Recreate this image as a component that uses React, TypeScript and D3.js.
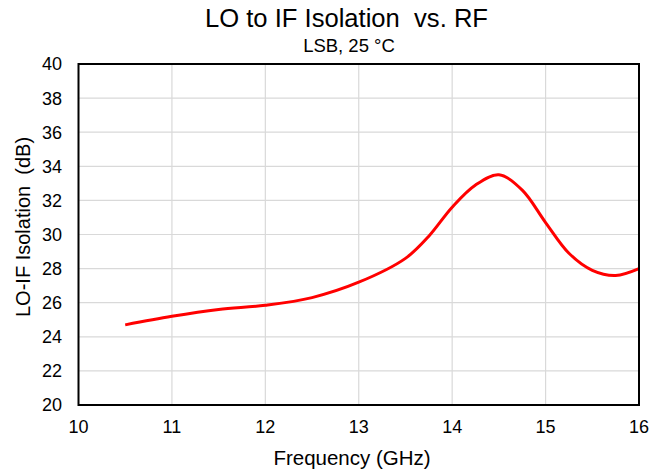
import React from "react";
import * as d3 from "d3";

const freqGHz = [10.5, 11, 11.5, 12, 12.5, 13, 13.5, 13.75, 14, 14.25, 14.5, 14.75, 15, 15.25, 15.5, 15.75, 16];
const isolationDb = [24.7, 25.2, 25.6, 25.85, 26.3, 27.2, 28.6, 29.9, 31.6, 32.9, 33.5, 32.6, 30.7, 28.9, 27.9, 27.6, 28.0];
const xTicks = [10, 11, 12, 13, 14, 15, 16];
const yTicks = [20, 22, 24, 26, 28, 30, 32, 34, 36, 38, 40];

const W = 651, H = 474;
const M = { left: 78.5, right: 639, top: 64, bottom: 405 };
const FONT = "'Liberation Sans', Arial, sans-serif";

export default function App() {
  const x = d3.scaleLinear().domain([10, 16]).range([M.left, M.right]);
  const y = d3.scaleLinear().domain([20, 40]).range([M.bottom, M.top]);
  const pts: [number, number][] = freqGHz.map((f, i) => [f, isolationDb[i]]);
  const line = d3.line<[number, number]>().x(d => x(d[0])).y(d => y(d[1])).curve(d3.curveCatmullRom.alpha(0.5));
  return (
    <svg width={W} height={H} style={{ position: "absolute", left: 0, top: 0 }} fontFamily={FONT}>
      <rect width={W} height={H} fill="#fff" />
      {xTicks.slice(1, -1).map(t => (
        <line key={"gx" + t} x1={x(t)} x2={x(t)} y1={M.top} y2={M.bottom} stroke="#d9d9d9" strokeWidth={1.2} />
      ))}
      {yTicks.slice(1, -1).map(t => (
        <line key={"gy" + t} x1={M.left} x2={M.right} y1={y(t)} y2={y(t)} stroke="#d9d9d9" strokeWidth={1.2} />
      ))}
      <path d={line(pts) || ""} fill="none" stroke="#ff0000" strokeWidth={3} />
      <rect x={M.left} y={M.top} width={M.right - M.left} height={M.bottom - M.top} fill="none" stroke="#000" strokeWidth={2} />
      {yTicks.map(t => (
        <text key={"ty" + t} x={62} y={y(t)} dy="0.36em" textAnchor="end" fontSize={18} fill="#000">{t}</text>
      ))}
      {xTicks.map(t => (
        <text key={"tx" + t} x={x(t)} y={433} textAnchor="middle" fontSize={18} fill="#000">{t}</text>
      ))}
      <text x={488} y={27} textAnchor="end" fontSize={25.6} fill="#000" style={{ whiteSpace: "pre" }}>LO to IF Isolation  vs. RF</text>
      <text x={349} y={52} textAnchor="middle" fontSize={18.5} fill="#000">LSB, 25 °C</text>
      <text x={352} y={465} textAnchor="middle" fontSize={20.5} fill="#000">Frequency (GHz)</text>
      <text transform={`translate(30, 317) rotate(-90)`} textAnchor="start" fontSize={20} fill="#000" style={{ whiteSpace: "pre" }}>LO-IF Isolation  (dB)</text>
    </svg>
  );
}
